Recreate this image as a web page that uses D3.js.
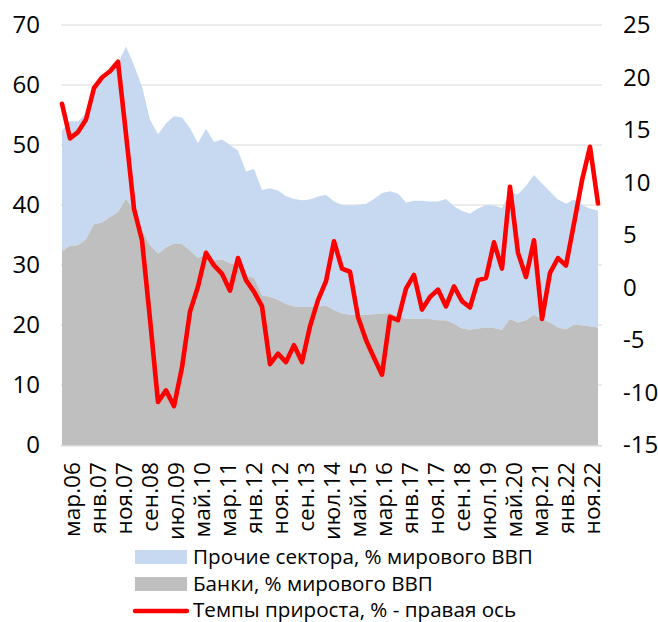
<!DOCTYPE html>
<html>
<head>
<meta charset="utf-8">
<script src="https://cdn.jsdelivr.net/npm/d3@7"></script>
<style>
html,body{margin:0;padding:0;background:#fff;}
svg{display:block;}
text{font-family:"Open Sans",Lato,sans-serif;fill:#000;}
</style>
</head>
<body>
<svg id="chart" width="658" height="622"></svg>
<script>
// Tick labels on the x axis
const xTickLabels = ["мар.06","янв.07","ноя.07","сен.08","июл.09","май.10","мар.11","янв.12","ноя.12","сен.13","июл.14","май.15","мар.16","янв.17","ноя.17","сен.18","июл.19","май.20","мар.21","янв.22","ноя.22"];
const leftTicks = [0,10,20,30,40,50,60,70];
const rightTicks = [-15,-10,-5,0,5,10,15,20,25];

// Quarterly categories, Q1 2006 .. Q4 2022
const quarters = [];
for (let y = 2006; y <= 2022; y++) for (let q = 1; q <= 4; q++) quarters.push(y + "Q" + q);

// Банки, % мирового ВВП
const banks = [32.3,33.2,33.3,34.3,36.8,37.1,38.0,38.8,41.1,39.1,35.8,33.3,31.9,32.9,33.6,33.5,32.4,31.2,31.7,30.8,
  30.9,30.3,30.1,28.1,27.9,24.9,24.7,24.2,23.5,23.1,23.0,23.0,23.1,23.2,22.5,21.9,21.7,21.7,21.7,21.8,
  21.9,22.0,21.4,21.0,21.1,21.0,21.0,20.8,20.8,20.2,19.4,19.2,19.4,19.6,19.5,19.2,21.0,20.4,20.8,21.7,
  21.0,20.4,19.6,19.3,20.1,19.9,19.8,19.6];
// Прочие сектора, % мирового ВВП
const others = [20.1,20.8,20.6,21.0,22.4,23.5,23.7,24.8,25.3,24.2,23.9,20.9,19.9,20.7,21.2,21.1,20.4,19.1,21.0,19.7,
  20.0,19.7,19.0,17.5,18.1,17.6,18.1,18.2,18.0,17.9,17.8,17.9,18.3,18.5,18.1,18.1,18.2,18.3,18.5,19.2,
  20.1,20.3,20.5,19.4,19.6,19.7,19.6,19.8,20.2,19.6,19.6,19.4,20.0,20.4,20.4,20.3,21.1,21.4,22.4,23.3,
  22.6,21.8,21.3,20.9,20.8,20.1,19.6,19.5];
// Темпы прироста, % - правая ось
const growth = [17.5,14.2,14.8,16.0,19.0,20.0,20.6,21.5,14.6,7.5,4.5,-3.0,-10.9,-9.8,-11.3,-7.6,-2.3,0.1,3.3,2.1,
  1.3,-0.3,2.8,0.7,-0.4,-1.8,-7.3,-6.3,-7.1,-5.5,-7.1,-3.7,-1.2,0.6,4.4,1.8,1.5,-2.8,-5.0,-6.7,
  -8.3,-2.8,-3.1,-0.1,1.2,-2.1,-0.9,-0.2,-1.8,0.1,-1.3,-1.9,0.7,0.9,4.3,1.8,9.6,3.3,1.0,4.5,
  -3.0,1.4,2.8,2.1,6.1,10.2,13.4,8.0];

const seriesNames = ["Прочие сектора, % мирового ВВП","Банки, % мирового ВВП","Темпы прироста, % - правая ось"];
const colors = {others:"#c6d9f0", banks:"#bfbfbf", growth:"#ff0000", grid:"#d9d9d9"};

const svg = d3.select("#chart");
const plot = {left:62, right:598, top:25, bottom:445};

// font size fitting helper: size so that `sample` spans `target` px
function fitSize(sample, target) {
  const t = svg.append("text").attr("font-size", 20).text(sample);
  const w = t.node().getComputedTextLength();
  t.remove();
  return w > 0 ? 20 * target / w : 20;
}
const tickSize = Math.min(fitSize("70", 27.5), 26);
const xLabSize = Math.min(fitSize("мар.06", 75), 24);
const legSize = Math.min(fitSize(seriesNames[0], 340), 21);

const x = d3.scalePoint().domain(quarters).range([plot.left, plot.right]);
const xLab = d3.scalePoint().domain(xTickLabels).range([71, 591]);
const yL = d3.scaleLinear().domain([0,70]).range([plot.bottom, plot.top]);
const yR = d3.scaleLinear().domain([-15,25]).range([plot.bottom, plot.top]);
const plainFmt = d => String(d);

// gridlines
svg.append("g").selectAll("line").data(leftTicks.filter(d=>d>0)).join("line")
  .attr("x1", 61).attr("x2", 602)
  .attr("y1", d=>yL(d)).attr("y2", d=>yL(d))
  .attr("stroke", colors.grid).attr("stroke-width", 1.2);

// stacked areas
const table = quarters.map((q,i)=>({q, banks:banks[i], others:others[i]}));
const stack = d3.stack().keys(["banks","others"])(table);
const area = d3.area().x(d=>x(d.data.q)).y0(d=>yL(d[0])).y1(d=>yL(d[1]));
svg.append("path").datum(stack[1]).attr("d", area).attr("fill", colors.others);
svg.append("path").datum(stack[0]).attr("d", area).attr("fill", colors.banks);

// bottom axis line
svg.append("line").attr("x1",61).attr("x2",602).attr("y1",yL(0)+0.8).attr("y2",yL(0)+0.8)
  .attr("stroke", colors.grid).attr("stroke-width",1.6);

// growth line
const line = d3.line().x((d,i)=>x(quarters[i])).y(d=>yR(d));
svg.append("path").datum(growth).attr("d", line).attr("fill","none")
  .attr("stroke", colors.growth).attr("stroke-width",4.6)
  .attr("stroke-linejoin","round").attr("stroke-linecap","round");

// left axis
const axL = d3.axisLeft(yL).tickValues(leftTicks).tickFormat(plainFmt).tickSize(0).tickPadding(0);
const gL = svg.append("g").attr("transform","translate(40,0)").call(axL);
gL.select(".domain").remove();
gL.selectAll("text").attr("font-size",tickSize).attr("font-family","'Open Sans',Lato,sans-serif").attr("fill","#000");

// right axis
const axR = d3.axisRight(yR).tickValues(rightTicks).tickFormat(plainFmt).tickSize(0).tickPadding(0);
const gR = svg.append("g").attr("transform","translate(623,0)").call(axR);
gR.select(".domain").remove();
gR.selectAll("text").attr("font-size",tickSize).attr("font-family","'Open Sans',Lato,sans-serif").attr("fill","#000");

// bottom axis labels
const axB = d3.axisBottom(xLab).tickSize(0).tickPadding(0);
const gB = svg.append("g").attr("transform","translate(0,462)").call(axB);
gB.select(".domain").remove();
gB.selectAll("text")
  .attr("font-size",xLabSize).attr("font-family","'Open Sans',Lato,sans-serif").attr("fill","#000")
  .attr("transform","rotate(-90)").attr("text-anchor","end")
  .attr("x",0).attr("y",0).attr("dy","0.36em");

// legend
const leg = svg.append("g");
const rows = [
  {name:seriesNames[0], type:"rect", color:colors.others, y:550},
  {name:seriesNames[1], type:"rect", color:colors.banks, y:577},
  {name:seriesNames[2], type:"line", color:colors.growth, y:603}
];
rows.forEach(r=>{
  if (r.type==="rect") {
    leg.append("rect").attr("x",135).attr("y",r.y).attr("width",52).attr("height",14).attr("fill",r.color);
  } else {
    leg.append("line").attr("x1",135).attr("x2",187).attr("y1",r.y+8).attr("y2",r.y+8)
      .attr("stroke",r.color).attr("stroke-width",4.5).attr("stroke-linecap","round");
  }
  leg.append("text").attr("x",193).attr("y",r.y+14).attr("font-size",legSize).text(r.name);
});
</script>
</body>
</html>
